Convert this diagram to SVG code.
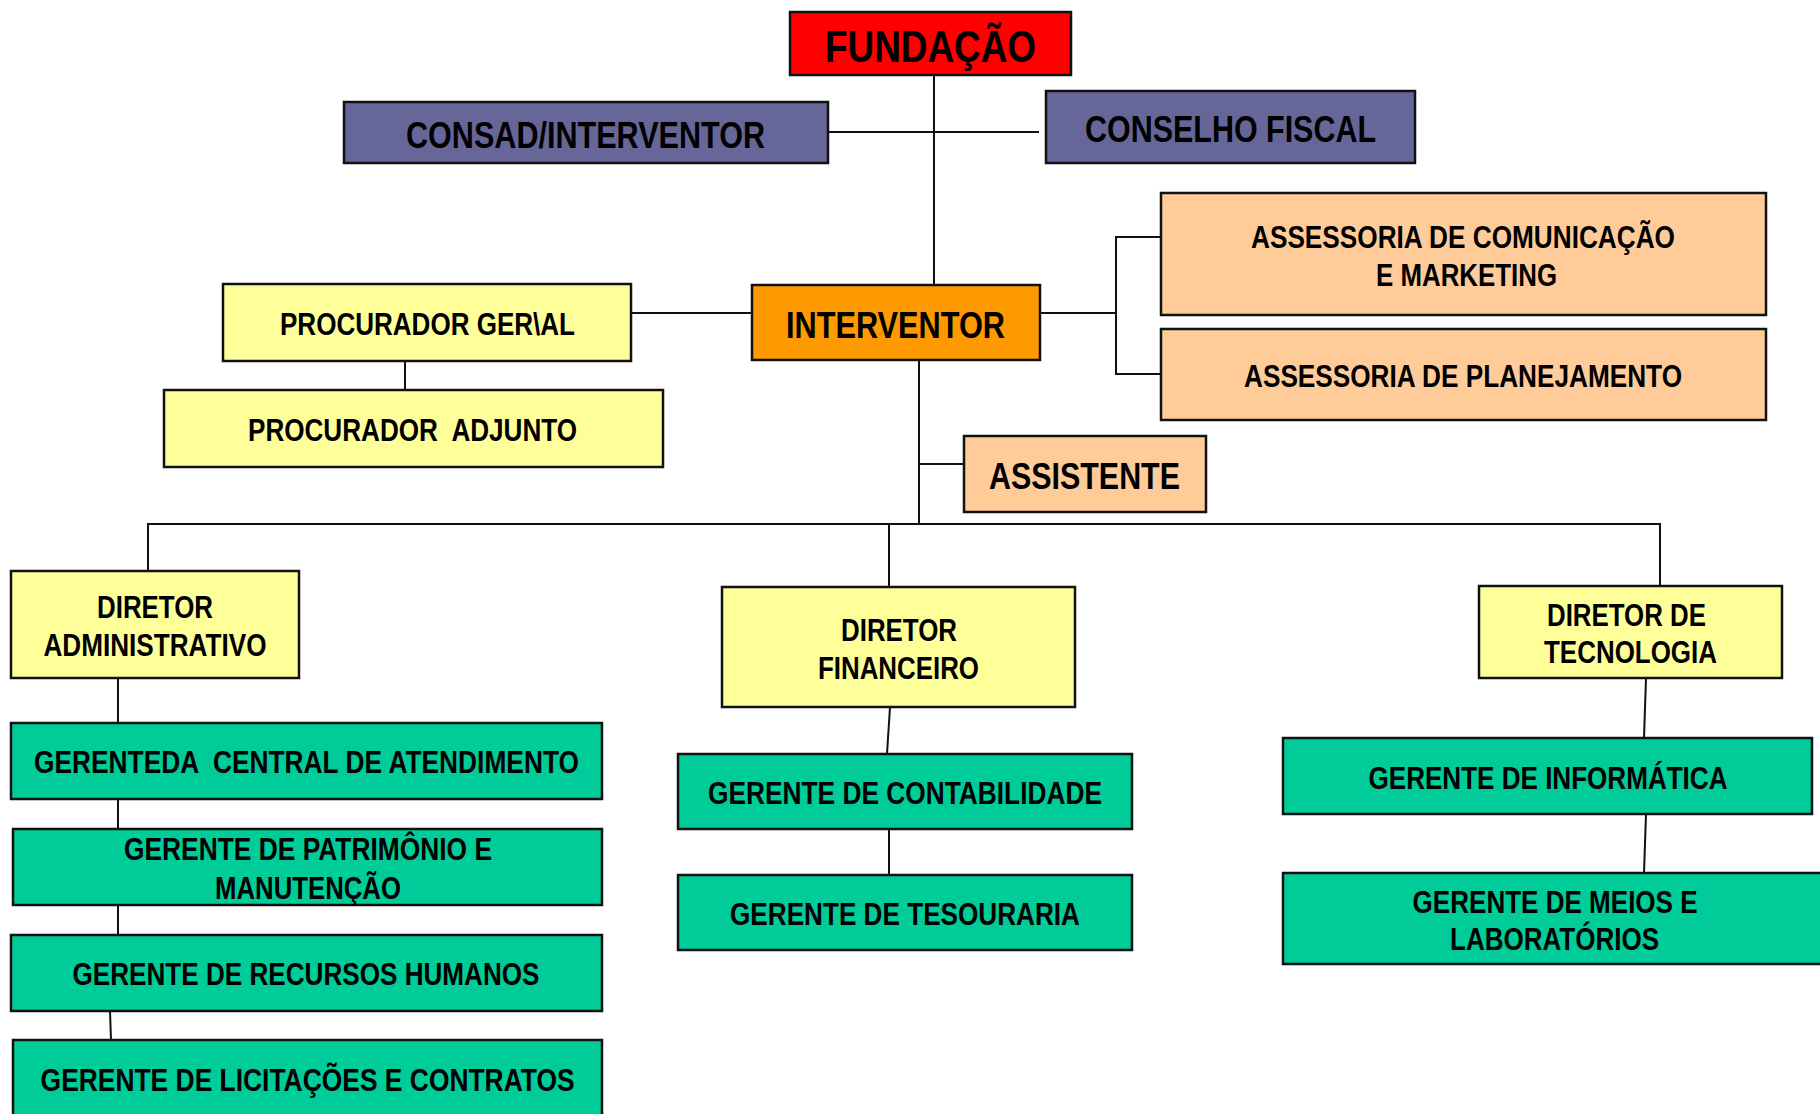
<svg xmlns="http://www.w3.org/2000/svg" width="1820" height="1114" viewBox="0 0 1820 1114">
<style>
.box{stroke:#111;stroke-width:2.5}
.red{fill:#FF0000}.slate{fill:#666699}.orange{fill:#FF9900}.peach{fill:#FFCC99}.yellow{fill:#FFFF99}.green{fill:#00CC99}
text{font-family:"Liberation Sans Narrow","Arial Narrow","Liberation Sans",Arial,sans-serif;font-weight:bold;fill:#000;white-space:pre}
.s44{font-size:44px}.s37{font-size:37px}.s36{font-size:36px}.s32{font-size:32px}.s31{font-size:31px}
#connectors path{fill:none;stroke:#111;stroke-width:2}
</style>
<rect width="1820" height="1114" fill="#fff"/>
<g id="connectors">
<path d="M934,75 V285"/>
<path d="M828,132 H1039"/>
<path d="M631,313 H752"/>
<path d="M405,361 V390"/>
<path d="M1040,313 H1116"/>
<path d="M1161,237 H1116 V374 H1161"/>
<path d="M919,360 V524"/>
<path d="M919,464 H964"/>
<path d="M148,571 V524 H1660 V586"/>
<path d="M889,524 V587"/>
<path d="M118,678 V723"/>
<path d="M118,799 V829"/>
<path d="M118,905 V935"/>
<path d="M110,1011 L111,1040"/>
<path d="M890,707 L887,754"/>
<path d="M889,829 V875"/>
<path d="M1646,678 L1644,738"/>
<path d="M1646,814 L1644,873"/>
</g>
<g id="fundacao"><rect class="box red" x="790" y="12" width="281" height="63"/><text class="s44" x="825" y="62" textLength="211" lengthAdjust="spacingAndGlyphs">FUNDAÇÃO</text></g>
<g id="consad"><rect class="box slate" x="344" y="102" width="484" height="61"/><text class="s37" x="406" y="148" textLength="359" lengthAdjust="spacingAndGlyphs">CONSAD/INTERVENTOR</text></g>
<g id="conselho-fiscal"><rect class="box slate" x="1046" y="91" width="369" height="72"/><text class="s37" x="1085" y="142" textLength="291" lengthAdjust="spacingAndGlyphs">CONSELHO FISCAL</text></g>
<g id="interventor"><rect class="box orange" x="752" y="285" width="288" height="75"/><text class="s37" x="786" y="338" textLength="219" lengthAdjust="spacingAndGlyphs">INTERVENTOR</text></g>
<g id="procurador-geral"><rect class="box yellow" x="223" y="284" width="408" height="77"/><text class="s31" x="280" y="335" textLength="295" lengthAdjust="spacingAndGlyphs">PROCURADOR GER\AL</text></g>
<g id="procurador-adjunto"><rect class="box yellow" x="164" y="390" width="499" height="77"/><text class="s31" x="248" y="441" textLength="329" lengthAdjust="spacingAndGlyphs">PROCURADOR  ADJUNTO</text></g>
<g id="assessoria-comunicacao"><rect class="box peach" x="1161" y="193" width="605" height="122"/><text class="s32" x="1251" y="248" textLength="424" lengthAdjust="spacingAndGlyphs">ASSESSORIA DE COMUNICAÇÃO</text><text class="s32" x="1376" y="286" textLength="181" lengthAdjust="spacingAndGlyphs">E MARKETING</text></g>
<g id="assessoria-planejamento"><rect class="box peach" x="1161" y="329" width="605" height="91"/><text class="s32" x="1244" y="387" textLength="438" lengthAdjust="spacingAndGlyphs">ASSESSORIA DE PLANEJAMENTO</text></g>
<g id="assistente"><rect class="box peach" x="964" y="436" width="242" height="76"/><text class="s36" x="989" y="489" textLength="191" lengthAdjust="spacingAndGlyphs">ASSISTENTE</text></g>
<g id="diretor-administrativo"><rect class="box yellow" x="11" y="571" width="288" height="107"/><text class="s31" x="97" y="618" textLength="116" lengthAdjust="spacingAndGlyphs">DIRETOR</text><text class="s31" x="43.5" y="656" textLength="223" lengthAdjust="spacingAndGlyphs">ADMINISTRATIVO</text></g>
<g id="diretor-financeiro"><rect class="box yellow" x="722" y="587" width="353" height="120"/><text class="s31" x="841" y="641" textLength="116" lengthAdjust="spacingAndGlyphs">DIRETOR</text><text class="s31" x="818" y="679" textLength="161" lengthAdjust="spacingAndGlyphs">FINANCEIRO</text></g>
<g id="diretor-tecnologia"><rect class="box yellow" x="1479" y="586" width="303" height="92"/><text class="s31" x="1547" y="626" textLength="159" lengthAdjust="spacingAndGlyphs">DIRETOR DE</text><text class="s31" x="1544" y="663" textLength="173" lengthAdjust="spacingAndGlyphs">TECNOLOGIA</text></g>
<g id="gerente-central"><rect class="box green" x="11" y="723" width="591" height="76"/><text class="s31" x="34" y="773" textLength="545" lengthAdjust="spacingAndGlyphs">GERENTEDA  CENTRAL DE ATENDIMENTO</text></g>
<g id="gerente-patrimonio"><rect class="box green" x="13" y="829" width="589" height="76"/><text class="s31" x="124" y="860" textLength="368" lengthAdjust="spacingAndGlyphs">GERENTE DE PATRIMÔNIO E</text><text class="s31" x="215" y="899" textLength="186" lengthAdjust="spacingAndGlyphs">MANUTENÇÃO</text></g>
<g id="gerente-rh"><rect class="box green" x="11" y="935" width="591" height="76"/><text class="s31" x="72.5" y="985" textLength="467" lengthAdjust="spacingAndGlyphs">GERENTE DE RECURSOS HUMANOS</text></g>
<g id="gerente-licitacoes"><rect class="box green" x="13" y="1040" width="589" height="90"/><text class="s31" x="40.6" y="1091" textLength="534" lengthAdjust="spacingAndGlyphs">GERENTE DE LICITAÇÕES E CONTRATOS</text></g>
<g id="gerente-contabilidade"><rect class="box green" x="678" y="754" width="454" height="75"/><text class="s31" x="708" y="804" textLength="394" lengthAdjust="spacingAndGlyphs">GERENTE DE CONTABILIDADE</text></g>
<g id="gerente-tesouraria"><rect class="box green" x="678" y="875" width="454" height="75"/><text class="s31" x="730" y="925" textLength="350" lengthAdjust="spacingAndGlyphs">GERENTE DE TESOURARIA</text></g>
<g id="gerente-informatica"><rect class="box green" x="1283" y="738" width="529" height="76"/><text class="s31" x="1368.5" y="789" textLength="359" lengthAdjust="spacingAndGlyphs">GERENTE DE INFORMÁTICA</text></g>
<g id="gerente-meios"><rect class="box green" x="1283" y="873" width="560" height="91"/><text class="s31" x="1412.6" y="913" textLength="285" lengthAdjust="spacingAndGlyphs">GERENTE DE MEIOS E</text><text class="s31" x="1450" y="950" textLength="209" lengthAdjust="spacingAndGlyphs">LABORATÓRIOS</text></g>
</svg>
